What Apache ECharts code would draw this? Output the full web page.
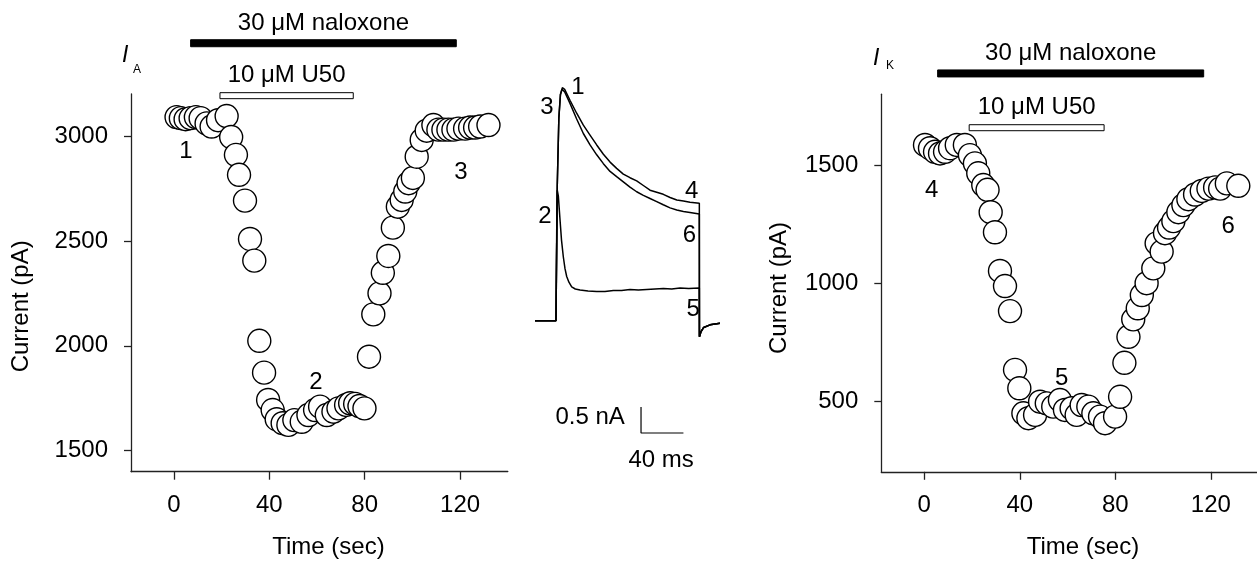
<!DOCTYPE html>
<html><head><meta charset="utf-8">
<script src="https://cdn.jsdelivr.net/npm/echarts@6/dist/echarts.min.js"></script>
<style>html,body{margin:0;padding:0;background:#fff}#c{width:1257px;height:563px}</style>
</head><body><div id="c"></div>
<script>
// ---------- tick labels ----------
const timeTicks = [0, 40, 80, 120];
const iaTicks = [1500, 2000, 2500, 3000];
const ikTicks = [500, 1000, 1500];

// ---------- I_A time course (sec, pA) ----------
const iaTime = [1.1, 2.9, 4.9, 7, 9.2, 11.2, 13.7, 15.8, 18.5, 22.1, 24, 26, 27.3, 29.8, 31.9, 33.7, 35.8, 37.8,
  39.5, 41.4, 43.1, 45.6, 48, 50.5, 53.6, 56.4, 59.2, 61.3, 64.1, 66.9, 69, 72.2, 73.9, 76, 77.8, 79.9,
  81.8, 83.6, 86.2, 87.6, 89.9, 91.8, 93.9, 95.5, 97, 98.4, 100.2, 101.8, 103.9, 106, 108.8,
  110.9, 113, 115.1, 117.2, 119.3, 122.1, 124.2, 126.3, 128.4, 131.9];
const iaCurrent = [3090, 3085, 3080, 3085, 3090, 3085, 3060, 3045, 3075, 3095, 2995, 2910, 2815, 2692, 2509, 2406, 2024, 1872,
  1742, 1694, 1650, 1631, 1623, 1646, 1638, 1670, 1694, 1710, 1670, 1686, 1702, 1718, 1726, 1723, 1713, 1702,
  1948, 2150, 2250, 2348, 2428, 2563, 2663, 2695, 2735, 2775, 2800, 2901, 2981, 3025, 3052,
  3030, 3030, 3030, 3030, 3035, 3035, 3040, 3040, 3045, 3052];
const iaMarkText = ['1', '2', '3'];
const iaMarkTime = [5, 59.5, 120.3];
const iaMarkCurrent = [2928, 1828, 2828];

// ---------- I_K time course (sec, pA) ----------
const ikTime = [0.3, 2.4, 4.5, 6.6, 8.7, 10.8, 13.6, 17, 19.1, 21.2, 22.6, 24.7, 26.5, 27.8, 29.6, 31.7, 33.8, 35.9,
  38, 39.8, 41.5, 43.6, 46.4, 48.5, 51.3, 54, 56.8, 58.9, 61.7, 63.8, 65.9, 68.7, 70.8, 73.6, 75.7, 79.9,
  82, 83.8, 85.5, 87.5, 89.4, 91.1, 93.1, 95.9, 97.3, 99.4, 100.8, 102.5, 104.3, 106.4, 108.5, 110.6,
  113.4, 116.2, 119, 121.8, 123.9, 126.7, 131.5];
const ikCurrent = [1585, 1571, 1556, 1549, 1556, 1571, 1585, 1585, 1542, 1507, 1465, 1415, 1395, 1300, 1215, 1051, 987, 881,
  632, 554, 448, 427, 441, 497, 490, 476, 504, 462, 469, 441, 483, 476, 448, 434, 406, 434,
  518, 662, 772, 846, 893, 949, 999, 1062, 1168, 1133, 1211, 1235, 1262, 1300, 1330, 1355,
  1375, 1390, 1400, 1405, 1400, 1422, 1412];
const ikMarkText = ['4', '5', '6'];
const ikMarkTime = [3.1, 57.5, 127.3];
const ikMarkCurrent = [1394, 596, 1239];

// ---------- drug application bars ----------
const drugNames = ['30 μM naloxone', '10 μM U50'];
const drugFilled = [1, 0];
const iaDrugStart = [7, 19.3];
const iaDrugEnd = [118.4, 75.2];
const iaDrugLevel = [3442, 3192];
const ikDrugStart = [5.6, 18.8];
const ikDrugEnd = [117, 75.3];
const ikDrugLevel = [1888, 1658];

// ---------- current traces (ms, nA) ----------
const traceTopTime = [0, 19.8, 21, 22.5, 24, 25.8, 28, 33, 39.3, 45.6, 51.9, 58.2, 64.5, 70.8, 77, 83.3, 89.6, 95.9,
  102.2, 108.5, 114.8, 121, 127.4, 133.7, 140, 146.2, 155, 155.1, 156.6, 159.1, 165.1, 174.5];
const traceTopCurrent = [0, 0, 2.6, 3.9, 4.35, 4.48, 4.45, 4.24, 3.99, 3.76, 3.57, 3.38, 3.2, 3.05, 2.93, 2.82, 2.75, 2.69,
  2.6, 2.51, 2.47, 2.43, 2.37, 2.32, 2.3, 2.28, 2.26, -0.31, -0.21, -0.13, -0.08, -0.05];
const traceMidTime = [0, 19.8, 21, 22.5, 24, 25.5, 28, 33, 39.3, 45.6, 51.9, 58.2, 64.5, 70.8, 77, 83.3, 89.6, 95.9,
  102.2, 108.5, 114.8, 121, 127.4, 133.7, 140, 146.2, 155, 155.1, 156.6, 159.1, 165.1, 174.5];
const traceMidCurrent = [0, 0, 2.6, 3.9, 4.35, 4.45, 4.4, 4.18, 3.88, 3.6, 3.38, 3.19, 3.02, 2.87, 2.77, 2.67, 2.57, 2.48,
  2.41, 2.35, 2.29, 2.23, 2.17, 2.13, 2.1, 2.08, 2.05, -0.31, -0.21, -0.13, -0.08, -0.05];
const traceLowTime = [0, 19.8, 20.5, 21, 22, 23.6, 25, 26.7, 28.3, 29.9, 32, 34.6, 38, 42.5, 50, 58.2, 66, 73.9,
  81.7, 89.6, 97.5, 105.4, 113.2, 121.1, 129, 136.8, 145, 155, 155.1, 156.6, 159.1, 165.1, 174.5];
const traceLowCurrent = [0, 0, 1.8, 2.51, 2.4, 1.94, 1.55, 1.23, 1.0, 0.85, 0.74, 0.65, 0.61, 0.59, 0.57, 0.56, 0.56, 0.58,
  0.58, 0.6, 0.59, 0.6, 0.61, 0.62, 0.61, 0.63, 0.62, 0.63, -0.31, -0.21, -0.13, -0.08, -0.05];
const traceMarkText = ['1', '3', '4', '6', '2', '5'];
const traceMarkTime = [40.6, 11.3, 147.8, 145.6, 9.4, 149.3];
const traceMarkCurrent = [4.48, 4.11, 2.48, 1.65, 2.01, 0.21];
// scale bar: 0.5 nA by 40 ms
const scaleTime = [100, 100, 140];
const scaleCurrent = [-1.66, -2.16, -2.16];
const scaleText = ['0.5 nA', '40 ms'];
const scaleTextTime = [52, 119];
const scaleTextCurrent = [-1.85, -2.68];

// ---------- build ----------
const FONT = '"Liberation Sans", Arial, sans-serif';
const zip = (a, b) => a.map((v, i) => [v, b[i]]);
const axisLineStyle = { color: '#222', width: 1.3 };
const plain = v => String(v);

function xAxisCfg(gi, gapPad) {
  return {
    gridIndex: gi, type: 'value', min: -18, max: 140,
    axisLine: { show: true, onZero: false, lineStyle: axisLineStyle },
    axisTick: { show: true, length: 8, customValues: timeTicks, lineStyle: axisLineStyle },
    axisLabel: { customValues: timeTicks, formatter: plain, fontSize: 24, fontFamily: FONT, color: '#000', margin: 22 },
    splitLine: { show: false },
    name: 'Time (sec)', nameLocation: 'middle', nameGap: 64,
    nameTextStyle: { fontSize: 24, fontFamily: FONT, color: '#000', padding: [0, 0, 0, gapPad] }
  };
}
function yAxisCfg(gi, min, max, ticks, gap, shift) {
  return {
    gridIndex: gi, type: 'value', min: min, max: max,
    axisLine: { show: true, onZero: false, lineStyle: axisLineStyle },
    axisTick: { show: true, length: 7, customValues: ticks, lineStyle: axisLineStyle },
    axisLabel: { customValues: ticks, formatter: plain, fontSize: 24, fontFamily: FONT, color: '#000', margin: 23 },
    splitLine: { show: false },
    name: 'Current (pA)', nameLocation: 'middle', nameGap: gap,
    nameTextStyle: { fontSize: 24, fontFamily: FONT, color: '#000', padding: [0, shift, 0, 0] }
  };
}
function scatterSeries(gi, t, v) {
  return {
    type: 'scatter', xAxisIndex: gi, yAxisIndex: gi, data: zip(t, v),
    symbol: 'circle', symbolSize: 23, silent: true,
    itemStyle: { color: '#fff', borderColor: '#000', borderWidth: 1.4, opacity: 1 }
  };
}
function textSeries(gi, txt, t, v) {
  return {
    type: 'scatter', xAxisIndex: gi, yAxisIndex: gi, symbolSize: 0, silent: true,
    itemStyle: { opacity: 1 },
    data: txt.map((s, i) => ({ value: [t[i], v[i]], name: s })),
    label: { show: true, position: 'inside', formatter: p => p.name, fontSize: 24, fontFamily: FONT, color: '#000', opacity: 1 }
  };
}
function drugSeries(gi, st, en, lv) {
  return {
    type: 'custom', xAxisIndex: gi, yAxisIndex: gi, clip: false, silent: true,
    data: st.map((s, i) => [s, en[i], lv[i], drugFilled[i]]),
    renderItem: function (params, api) {
      const a = api.coord([api.value(0), api.value(2)]);
      const b = api.coord([api.value(1), api.value(2)]);
      const filled = api.value(3) === 1;
      const h = filled ? 7 : 6;
      return {
        type: 'group', children: [
          { type: 'rect', shape: { x: a[0], y: a[1] - h / 2, width: b[0] - a[0], height: h },
            style: { fill: filled ? '#000' : '#fff', stroke: '#000', lineWidth: 1 } },
          { type: 'text', style: { text: drugNames[params.dataIndex], x: (a[0] + b[0]) / 2, y: a[1] - 20,
            align: 'center', verticalAlign: 'middle', font: '24px ' + FONT, fill: '#000' } }
        ]
      };
    }
  };
}
function traceSeries(t, v) {
  return { type: 'line', xAxisIndex: 2, yAxisIndex: 2, data: zip(t, v), showSymbol: false, silent: true,
    lineStyle: { color: '#000', width: 1.5 } };
}

const option = {
  animation: false,
  backgroundColor: '#fff',
  title: [
    { text: 'I', left: 122, top: 44, padding: 0, textStyle: { fontStyle: 'italic', fontWeight: 'normal', fontSize: 23, fontFamily: FONT, color: '#000' } },
    { text: 'A', left: 133, top: 64, padding: 0, textStyle: { fontWeight: 'normal', fontSize: 12, fontFamily: FONT, color: '#000' } },
    { text: 'I', left: 873, top: 47, padding: 0, textStyle: { fontStyle: 'italic', fontWeight: 'normal', fontSize: 23, fontFamily: FONT, color: '#000' } },
    { text: 'K', left: 886, top: 60, padding: 0, textStyle: { fontWeight: 'normal', fontSize: 12, fontFamily: FONT, color: '#000' } }
  ],
  grid: [
    { left: 131, top: 94, width: 376.8, height: 377.7, outerBoundsMode: 'none', containLabel: false },
    { left: 881.3, top: 94.2, width: 377.3, height: 377.6, outerBoundsMode: 'none', containLabel: false },
    { left: 535, top: 81.5, width: 186.6, height: 395.2, outerBoundsMode: 'none', containLabel: false }
  ],
  xAxis: [
    xAxisCfg(0, 18),
    xAxisCfg(1, 26),
    { gridIndex: 2, type: 'value', min: 0, max: 176, show: false }
  ],
  yAxis: [
    yAxisCfg(0, 1400, 3200, iaTicks, 98, 47),
    yAxisCfg(1, 200, 1800, ikTicks, 90, 10),
    { gridIndex: 2, type: 'value', min: -3, max: 4.6, show: false }
  ],
  series: [
    drugSeries(0, iaDrugStart, iaDrugEnd, iaDrugLevel),
    drugSeries(1, ikDrugStart, ikDrugEnd, ikDrugLevel),
    scatterSeries(0, iaTime, iaCurrent),
    scatterSeries(1, ikTime, ikCurrent),
    textSeries(0, iaMarkText, iaMarkTime, iaMarkCurrent),
    textSeries(1, ikMarkText, ikMarkTime, ikMarkCurrent),
    traceSeries(traceLowTime, traceLowCurrent),
    traceSeries(traceMidTime, traceMidCurrent),
    traceSeries(traceTopTime, traceTopCurrent),
    textSeries(2, traceMarkText, traceMarkTime, traceMarkCurrent),
    { type: 'line', xAxisIndex: 2, yAxisIndex: 2, data: zip(scaleTime, scaleCurrent), showSymbol: false, silent: true,
      lineStyle: { color: '#000', width: 1.2 } },
    textSeries(2, scaleText, scaleTextTime, scaleTextCurrent)
  ]
};
const chart = echarts.init(document.getElementById('c'), null, { renderer: 'canvas' });
chart.setOption(option);
</script>
</body></html>
